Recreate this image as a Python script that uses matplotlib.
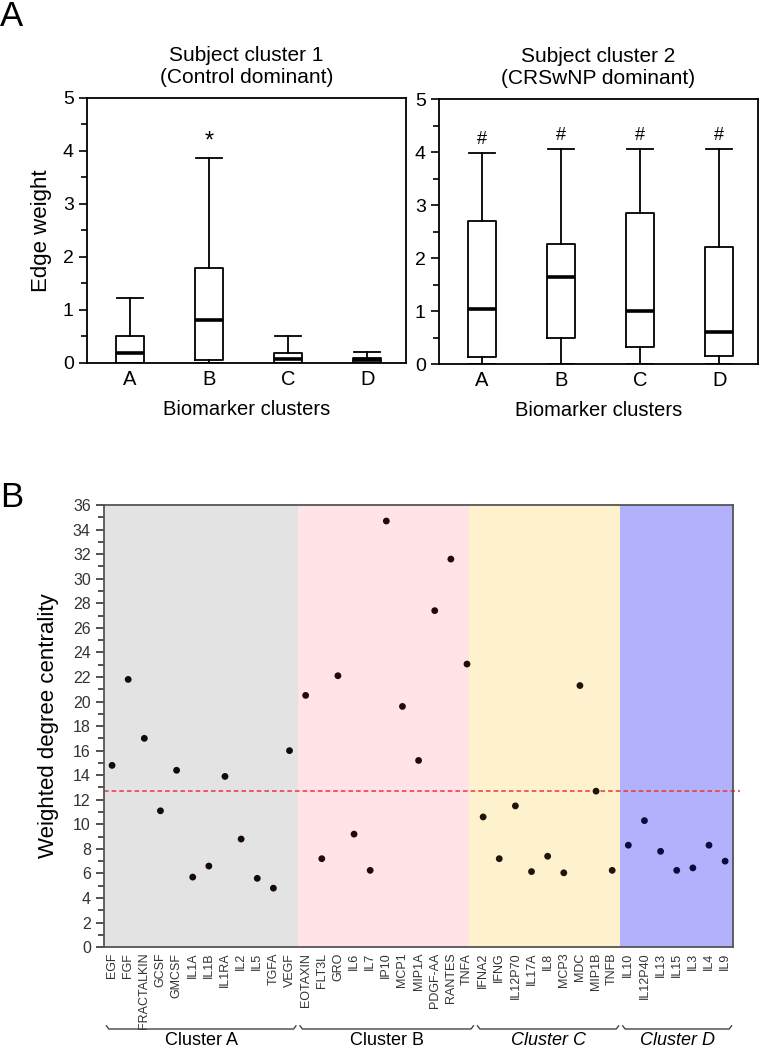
#!/usr/bin/env python3
# Panel A: edge-weight box plots per subject cluster; panel B: weighted degree centrality per biomarker.
import numpy as np
import matplotlib
matplotlib.use("Agg")
import matplotlib.pyplot as plt
import matplotlib.transforms as mtransforms

plt.rcParams["font.family"] = ["Liberation Sans", "DejaVu Sans"]

# ---- panel A data (box stats) ----
box_groups = ["A", "B", "C", "D"]
sc1_whislo = [0.0, 0.0, 0.0, 0.0]
sc1_q1     = [0.0, 0.05, 0.0, 0.0]
sc1_med    = [0.19, 0.82, 0.08, 0.05]
sc1_q3     = [0.51, 1.79, 0.19, 0.09]
sc1_whishi = [1.22, 3.87, 0.50, 0.20]
sc1_marks  = ["", "*", "", ""]

sc2_whislo = [0.0, 0.0, 0.0, 0.0]
sc2_q1     = [0.14, 0.50, 0.32, 0.15]
sc2_med    = [1.04, 1.65, 1.00, 0.61]
sc2_q3     = [2.70, 2.27, 2.85, 2.21]
sc2_whishi = [3.98, 4.05, 4.05, 4.05]
sc2_marks  = ["#", "#", "#", "#"]

# ---- panel B data ----
cl_a = ["EGF", "FGF", "FRACTALKIN", "GCSF", "GMCSF", "IL1A", "IL1B", "IL1RA", "IL2", "IL5", "TGFA", "VEGF"]
va_a = [14.8, 21.8, 17.0, 11.1, 14.4, 5.7, 6.6, 13.9, 8.8, 5.6, 4.8, 16.0]
cl_b = ["EOTAXIN", "FLT3L", "GRO", "IL6", "IL7", "IP10", "MCP1", "MIP1A", "PDGF-AA", "RANTES", "TNFA"]
va_b = [20.5, 7.2, 22.1, 9.2, 6.25, 34.7, 19.6, 15.2, 27.4, 31.6, 23.05]
cl_c = ["IFNA2", "IFNG", "IL12P70", "IL17A", "IL8", "MCP3", "MDC", "MIP1B", "TNFB"]
va_c = [10.6, 7.2, 11.5, 6.15, 7.4, 6.05, 21.3, 12.7, 6.25]
cl_d = ["IL10", "IL12P40", "IL13", "IL15", "IL3", "IL4", "IL9"]
va_d = [8.3, 10.3, 7.8, 6.25, 6.45, 8.3, 7.0]
cluster_names = ["Cluster A", "Cluster B", "Cluster C", "Cluster D"]
threshold = 12.7

band_colors = ["#e3e3e3", "#ffe3e6", "#fef1cd", "#b1b1fc"]
dot_colors = ["#140808", "#200a0a", "#201408", "#0a0a40"]

fig = plt.figure(figsize=(7.59, 10.5), dpi=100)


def box_panel(rect, title, lo, q1, med, q3, hi, marks, ylabel):
    ax = fig.add_axes(rect)
    stats = [dict(whislo=a, q1=b, med=c, q3=d, whishi=e, fliers=[])
             for a, b, c, d, e in zip(lo, q1, med, q3, hi)]
    ax.bxp(stats, positions=np.arange(1, 5), widths=0.35, showfliers=False,
           boxprops=dict(color="black", lw=1.3),
           whiskerprops=dict(color="black", lw=1.3),
           capprops=dict(color="black", lw=1.3),
           medianprops=dict(color="black", lw=2.6), capwidths=0.33)
    for i, (m, h) in enumerate(zip(marks, hi)):
        if m:
            ax.text(i + 1, h + 0.1, m, ha="center", va="bottom", fontsize=17 if m == "*" else 13)
    ax.set_xlim(0.46, 4.49)
    ax.set_ylim(0, 5)
    ax.set_yticks(range(6))
    ax.set_yticks(np.arange(0.5, 5, 1), minor=True)
    ax.set_xticks(range(1, 5))
    ax.set_xticklabels(box_groups)
    ax.tick_params(axis="x", length=0, labelsize=14.5, pad=5)
    ax.tick_params(axis="y", which="major", length=6, width=1.2, labelsize=14)
    ax.tick_params(axis="y", which="minor", length=4, width=1.2)
    for s in ax.spines.values():
        s.set_linewidth(1.3)
    ax.set_title(title, fontsize=15, pad=11, linespacing=1.2)
    ax.set_xlabel("Biomarker clusters", fontsize=14.5, labelpad=8)
    if ylabel:
        ax.set_ylabel(ylabel, fontsize=16, labelpad=8)
    return ax


box_panel([0.1146, 0.6543, 0.4203, 0.2524], "Subject cluster 1\n(Control dominant)",
          sc1_whislo, sc1_q1, sc1_med, sc1_q3, sc1_whishi, sc1_marks, "Edge weight")
box_panel([0.5784, 0.6533, 0.4203, 0.2524], "Subject cluster 2\n(CRSwNP dominant)",
          sc2_whislo, sc2_q1, sc2_med, sc2_q3, sc2_whishi, sc2_marks, None)

# ---- panel B ----
axb = fig.add_axes([0.137, 0.098, 0.829, 0.421])
groups = [(cl_a, va_a), (cl_b, va_b), (cl_c, va_c), (cl_d, va_d)]
labels, start = [], 0
edges = [-0.5]
spans = []
for gi, (names, vals) in enumerate(groups):
    idx = np.arange(start, start + len(names))
    axb.scatter(idx, vals, s=24, color=dot_colors[gi], zorder=3, edgecolors="none")
    labels += names
    spans.append((idx[0], idx[-1]))
    start += len(names)
    edges.append(idx[-1] + (0.15 if gi == 1 else 0.5))
edges[-1] = start - 0.5
for gi in range(4):
    axb.axvspan(edges[gi], edges[gi + 1], color=band_colors[gi], lw=0, zorder=0)

axb.plot([-0.5, start - 0.1], [threshold, threshold], ls=(0, (3, 2)), color="#ee3333",
         lw=1.1, zorder=2, clip_on=False)
axb.set_xlim(-0.5, start - 0.5)
axb.set_ylim(0, 36)
axb.set_yticks(range(0, 37, 2))
axb.set_yticks(range(1, 36, 2), minor=True)
axb.set_xticks(np.arange(start))
axb.set_xticklabels(labels, rotation=90, fontsize=9, color="#333333")
axb.tick_params(axis="x", length=0, pad=4)
axb.tick_params(axis="y", which="major", length=6, width=1.2, labelsize=11.5, colors="#333333")
axb.tick_params(axis="y", which="minor", length=4, width=1.2, colors="#333333")
for s in axb.spines.values():
    s.set_color("#555555")
    s.set_linewidth(1.3)
axb.set_ylabel("Weighted degree centrality", fontsize=16, labelpad=10)

# cluster brackets under the tick labels
tr = mtransforms.blended_transform_factory(axb.transData, fig.transFigure)
yb = 1 - 1029 / 1050
hook = 0.003
for gi, (a, b) in enumerate(spans):
    x0, x1 = a - 0.35, b + 0.4
    axb.plot([x0, x0 + 0.15, x1 - 0.15, x1], [yb + hook, yb, yb, yb + hook],
             color="#444444", lw=1.0, transform=tr, clip_on=False)
    axb.text((x0 + x1) / 2, yb - 0.003, cluster_names[gi], transform=tr, ha="center", va="top",
             fontsize=13, style="italic" if gi >= 2 else "normal")

fig.text(0.0, 1.0, "A", fontsize=25, ha="left", va="top")
fig.text(0.0, 0.542, "B", fontsize=25, ha="left", va="top")

fig.savefig("out.png", dpi=100)
